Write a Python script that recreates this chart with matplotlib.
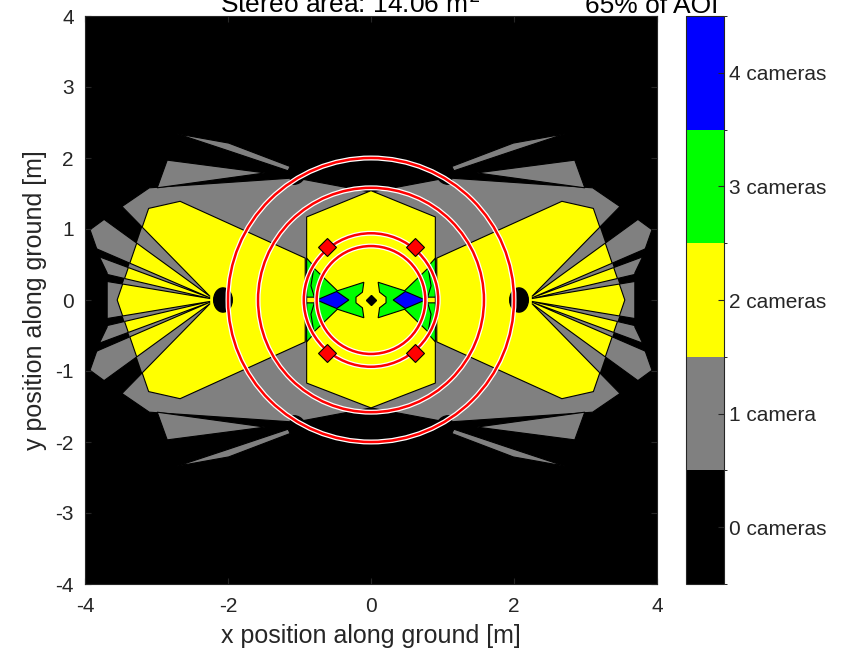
import numpy as np
import matplotlib
matplotlib.use('Agg')
import matplotlib.pyplot as plt
from matplotlib.patches import Polygon, Ellipse, Circle
from matplotlib.colors import ListedColormap, BoundaryNorm
import matplotlib.cm as cm

plt.rcParams['font.family'] = ['Liberation Sans', 'DejaVu Sans']
plt.rcParams['axes.unicode_minus'] = False

# colours for 0..4 cameras
count_colors = ['#000000', '#808080', '#ffff00', '#00ff00', '#0000ff']
count_labels = ['0 cameras', '1 camera', '2 cameras', '3 cameras', '4 cameras']

# right half of the coverage map (left half is the mirror image), metres
gray_envelope = [(0, 1.52), (1.06, 1.72), (3.10, 1.58), (3.55, 1.27), (3.93, 0.99),
                 (3.79, 0.59), (3.69, 0.38), (3.69, -0.38), (3.79, -0.59), (3.93, -0.99),
                 (3.55, -1.27), (3.10, -1.58), (1.06, -1.72), (0, -1.52)]
gray_sliver = [(1.13, 1.88), (1.99, 2.21), (2.71, 2.34), (1.99, 2.10), (1.16, 1.82)]
gray_triangle = [(1.48, 1.79), (2.85, 1.97), (2.99, 1.58)]

# tripod-leg shadows of the side camera (upper half)
shadow_1 = [(2.25, 0.05), (4.05, 1.90), (4.30, 1.55)]
shadow_2 = [(2.25, 0.03), (4.64, 1.07), (4.69, 0.94)]
shadow_3 = [(2.25, 0.02), (4.79, 0.62), (4.82, 0.45)]

yellow_side = [(0.92, 0.59), (2.67, 1.39), (3.11, 1.29), (3.55, 0.0), (3.11, -1.29),
               (2.67, -1.39), (0.92, -0.59)]
yellow_center = [(0, 1.54), (0.90, 1.17), (0.90, -1.17), (0, -1.52), (-0.90, -1.17),
                 (-0.90, 1.17)]

green_ring = [(0.90, 0.59), (0.82, 0.50), (0.76, 0.30), (0.76, 0.04), (0.90, 0.04)]
green_arrow = [(0.10, 0.25), (0.47, 0.13), (0.80, 0.45), (0.84, 0.20), (0.78, 0.0),
               (0.84, -0.20), (0.80, -0.45), (0.47, -0.13), (0.10, -0.25), (0.12, -0.11),
               (0.21, -0.04), (0.21, 0.04), (0.12, 0.11)]
blue_diamond = [(0.76, 0.0), (0.48, 0.12), (0.31, 0.0), (0.48, -0.12)]

side_cameras_x = [-2.07, 2.07]
small_cameras = [(-1.03, 1.71), (1.03, 1.71), (-1.03, -1.71), (1.03, -1.71)]

circle_radii = [2.0, 1.58, 0.94, 0.76]
marker_x = [-0.62, 0.62, -0.62, 0.62]
marker_y = [0.75, 0.75, -0.75, -0.75]

title_left = 'Stereo area: 14.06 m$^2$'
title_right = '65% of AOI'


def flip_x(pts):
    return [(-x, y) for x, y in pts]


def flip_y(pts):
    return [(x, -y) for x, y in pts]


def same(pts):
    return pts


def poly(ax, pts, color, z, lw=0.8):
    p = Polygon(pts, closed=True, fc=color, ec='black', lw=lw, zorder=z)
    ax.add_patch(p)
    return p


fig = plt.figure(figsize=(8.49, 6.61), dpi=100)
ax = fig.add_axes([85 / 849, 77 / 661, 572 / 849, 568 / 661])
ax.set_facecolor('black')

gray, yellow, green, blue = count_colors[1:]

for side in (same, flip_x):
    poly(ax, side(gray_envelope), gray, 1)
    for half in (same, flip_y):
        poly(ax, side(half(gray_sliver)), gray, 1)
        poly(ax, side(half(gray_triangle)), gray, 1)
        for s in (shadow_1, shadow_2, shadow_3):
            poly(ax, side(half(s)), 'black', 2)
    ys = poly(ax, side(yellow_side), yellow, 3)
    for half in (same, flip_y):
        for s in (shadow_1, shadow_2, shadow_3):
            g = poly(ax, side(half(s)), gray, 4)
            g.set_clip_path(ys)

poly(ax, yellow_center, yellow, 3)

for side in (same, flip_x):
    for half in (same, flip_y):
        poly(ax, side(half(green_ring)), green, 5)
    poly(ax, side(green_arrow), green, 5)
    poly(ax, side(blue_diamond), blue, 6)

# cameras
for cx in side_cameras_x:
    ax.add_patch(Ellipse((cx, 0), 0.26, 0.34, fc='black', ec='black', zorder=7))
for cx, cy in small_cameras:
    ax.add_patch(Ellipse((cx, cy), 0.22, 0.13, angle=np.degrees(np.arctan2(cy, cx)) - 90,
                         fc='black', ec='black', zorder=7))
ax.plot([0], [0], marker='D', ms=5, color='black', zorder=7)

for r in circle_radii:
    ax.add_patch(Circle((0, 0), r, fill=False, ec='white', lw=3.6, zorder=8))
    ax.add_patch(Circle((0, 0), r, fill=False, ec='red', lw=1.8, zorder=9))

ax.plot(marker_x, marker_y, ls='none', marker='D', ms=9, mfc='red', mec='black',
        mew=0.8, zorder=10)

ax.set_xlim(-4, 4)
ax.set_ylim(-4, 4)
ax.set_xticks([-4, -2, 0, 2, 4])
ax.set_yticks(range(-4, 5))
ax.tick_params(direction='in', top=True, right=True, labelsize=15, colors='#262626',
               length=4)
ax.tick_params(axis='x', pad=9)
ax.tick_params(axis='y', pad=8)
for sp in ax.spines.values():
    sp.set_color('#262626')
ax.set_xlabel('x position along ground [m]', fontsize=18, color='#262626', labelpad=6)
ax.set_ylabel('y position along ground [m]', fontsize=18, color='#262626', labelpad=6)

fig.text(350 / 849, 1 - 13 / 661, title_left, fontsize=19, color='black',
         ha='center', va='baseline')
fig.text(652 / 849, 1 - 13 / 661, title_right, fontsize=19, color='black',
         ha='center', va='baseline')

cax = fig.add_axes([686 / 849, 77 / 661, 38 / 849, 568 / 661])
cmap = ListedColormap(count_colors)
norm = BoundaryNorm(np.arange(-0.5, 5.5, 1), cmap.N)
cb = fig.colorbar(cm.ScalarMappable(norm=norm, cmap=cmap), cax=cax, ticks=range(5))
cb.set_ticklabels(count_labels)
cb.ax.tick_params(direction='in', labelsize=15, colors='#262626', length=4)
cb.outline.set_edgecolor('#262626')

fig.savefig('out.png', dpi=100)
